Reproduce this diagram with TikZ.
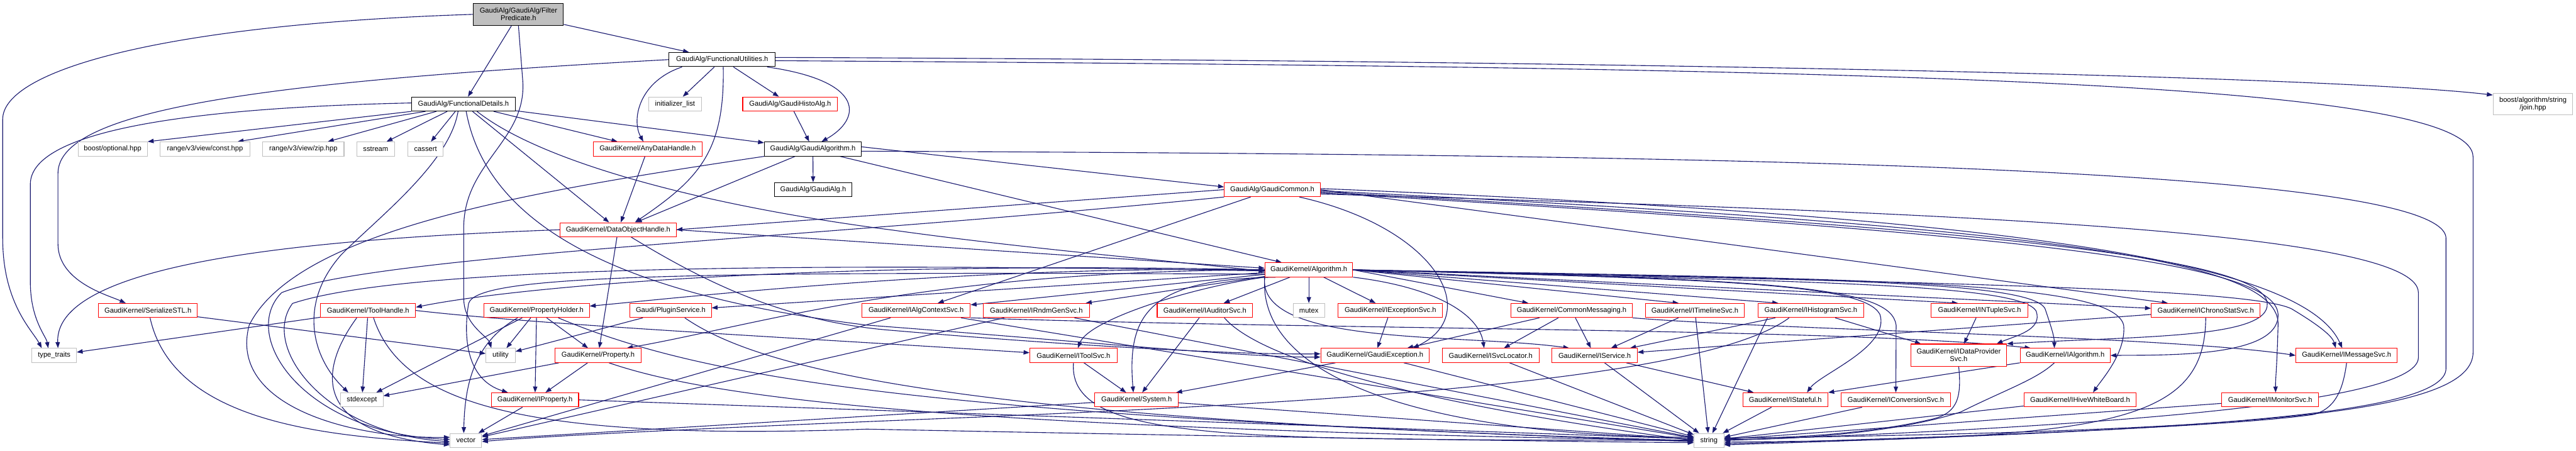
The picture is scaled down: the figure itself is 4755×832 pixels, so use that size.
\documentclass[tikz,border=0pt]{standalone}
\usepackage{fontspec}
\setmainfont{Liberation Sans}
\usetikzlibrary{arrows.meta,backgrounds}
\definecolor{edgec}{HTML}{191970}
\definecolor{redb}{HTML}{FF0000}
\definecolor{grayb}{HTML}{BFBFBF}
\newcommand\mybox[7]{\node[#1,minimum width=#5pt,minimum height=#6pt] (#2) at (#3,#4) {#7};}
\begin{document}
\begin{tikzpicture}[x=1pt,y=-1pt,font=\fontsize{13}{14}\selectfont,
  box/.style={draw,line width=1.2pt,inner sep=0pt,align=center,fill=white},
  rb/.style={box,draw=redb},
  kb/.style={box,draw=black},
  gb/.style={box,draw=grayb},
  fpb/.style={box,draw=black,fill=grayb},
  lnk/.style={draw=edgec,line width=1.3pt,-{Triangle[length=11pt,width=8pt]}}]
\useasboundingbox (0,0) rectangle (4755,832);
% nodes
\mybox{fpb}{fp}{957}{26.5}{166}{41}{GaudiAlg/GaudiAlg/Filter\\Predicate.h}
\mybox{kb}{fu}{1333}{110}{196}{26}{GaudiAlg/FunctionalUtilities.h}
\mybox{kb}{fd}{855.5}{192}{191}{26}{GaudiAlg/FunctionalDetails.h}
\mybox{gb}{bopt}{208}{275}{128}{26}{boost/optional.hpp}
\mybox{gb}{rconst}{378.5}{275}{165}{26}{range/v3/view/const.hpp}
\mybox{gb}{rzip}{560}{275}{150}{26}{range/v3/view/zip.hpp}
\mybox{gb}{sstream}{693.5}{275}{69}{26}{sstream}
\mybox{gb}{cassert}{785.5}{275}{65}{26}{cassert}
\mybox{gb}{initl}{1246}{192}{98}{26}{initializer\_list}
\mybox{rb}{gha}{1458.5}{192}{175}{26}{GaudiAlg/GaudiHistoAlg.h}
\mybox{rb}{adh}{1195.5}{275}{201}{26}{GaudiKernel/AnyDataHandle.h}
\mybox{kb}{ga}{1500.5}{275}{179}{26}{GaudiAlg/GaudiAlgorithm.h}
\mybox{kb}{galg}{1501}{350}{142}{26}{GaudiAlg/GaudiAlg.h}
\mybox{rb}{gc}{2348.5}{350}{177}{26}{GaudiAlg/GaudiCommon.h}
\mybox{rb}{doh}{1141}{424}{214}{26}{GaudiKernel/DataObjectHandle.h}
\mybox{gb}{join}{4675.5}{192}{147}{40}{boost/algorithm/string\\/join.hpp}
\mybox{rb}{alg}{2416}{498}{162}{26}{GaudiKernel/Algorithm.h}
\mybox{rb}{sstl}{273}{573}{182}{26}{GaudiKernel/SerializeSTL.h}
\mybox{rb}{th}{679.5}{573}{175}{26}{GaudiKernel/ToolHandle.h}
\mybox{rb}{ph}{990.5}{573}{195}{26}{GaudiKernel/PropertyHolder.h}
\mybox{rb}{ps}{1238}{573}{150}{26}{Gaudi/PluginService.h}
\mybox{rb}{iacs}{1691}{573}{200}{26}{GaudiKernel/IAlgContextSvc.h}
\mybox{rb}{irnd}{1913}{573}{196}{26}{GaudiKernel/IRndmGenSvc.h}
\mybox{rb}{iaud}{2224}{573}{176}{26}{GaudiKernel/IAuditorSvc.h}
\mybox{gb}{mutex}{2416}{573}{58}{26}{mutex}
\mybox{rb}{iexc}{2566.5}{573}{193}{26}{GaudiKernel/IExceptionSvc.h}
\mybox{rb}{cmsg}{2901}{573}{224}{26}{GaudiKernel/CommonMessaging.h}
\mybox{rb}{itl}{3128.5}{573}{183}{26}{GaudiKernel/ITimelineSvc.h}
\mybox{rb}{ihist}{3342.5}{573}{195}{26}{GaudiKernel/IHistogramSvc.h}
\mybox{rb}{intup}{3654}{573}{178}{26}{GaudiKernel/INTupleSvc.h}
\mybox{rb}{ichr}{4071.5}{573}{201}{26}{GaudiKernel/IChronoStatSvc.h}
\mybox{gb}{ttr}{100}{656}{82}{26}{type\_traits}
\mybox{gb}{util}{924}{656}{54}{26}{utility}
\mybox{rb}{prop}{1104}{656}{158}{26}{GaudiKernel/Property.h}
\mybox{rb}{itsvc}{1981.5}{656}{161}{26}{GaudiKernel/IToolSvc.h}
\mybox{rb}{gexc}{2538}{656}{200}{26}{GaudiKernel/GaudiException.h}
\mybox{rb}{isl}{2751.5}{656}{179}{26}{GaudiKernel/ISvcLocator.h}
\mybox{rb}{isvc}{2943.5}{656}{157}{26}{GaudiKernel/IService.h}
\mybox{rb}{idp}{3615.5}{655.5}{177}{41}{GaudiKernel/IDataProvider\\Svc.h}
\mybox{rb}{ialgo}{3812}{656}{166}{26}{GaudiKernel/IAlgorithm.h}
\mybox{rb}{imsg}{4331.5}{656}{187}{26}{GaudiKernel/IMessageSvc.h}
\mybox{gb}{stdexc}{668}{738}{78}{26}{stdexcept}
\mybox{rb}{iprop}{987.5}{738}{161}{26}{GaudiKernel/IProperty.h}
\mybox{rb}{sys}{2098}{738}{154}{26}{GaudiKernel/System.h}
\mybox{rb}{istat}{3295.5}{738}{157}{26}{GaudiKernel/IStateful.h}
\mybox{rb}{iconv}{3499.5}{738}{201}{26}{GaudiKernel/IConversionSvc.h}
\mybox{rb}{ihwb}{3839.5}{738}{207}{26}{GaudiKernel/IHiveWhiteBoard.h}
\mybox{rb}{imon}{4190.5}{738}{179}{26}{GaudiKernel/IMonitorSvc.h}
\mybox{gb}{vector}{860}{813}{58}{26}{vector}
\mybox{gb}{string}{3154.5}{813}{55}{26}{string}
\begin{pgfonlayer}{background}
% FilterPredicate
\draw[lnk] (fp) -- (fu);
\draw[lnk] (fp) -- (fd);
\draw[lnk] (fp.south) -- (965,150) .. controls (972,260) and (856,300) .. (856,420) -- (856,550) .. controls (856,600) and (900,620) .. ([xshift=-17]util.north);
\draw[lnk] (fp.west) .. controls (300,45) and (5,130) .. (5,220) -- (5,440) .. controls (5,560) and (60,610) .. ([xshift=-23]ttr.north);
% FunctionalUtilities
\draw[lnk] (fu) -- (initl);
\draw[lnk] (fu) -- (gha);
\draw[lnk] ([xshift=-74]fu.south) .. controls (1180,150) and (1165,220) .. ([xshift=-8]adh.north);
\draw[lnk] ([xshift=83]fu.south) .. controls (1600,150) and (1590,220) .. ([xshift=16]ga.north);
\draw[lnk] ([xshift=2]fu.south) .. controls (1338,280) and (1290,330) .. ([xshift=31]doh.north);
\draw[lnk] ([yshift=4]fu.east) .. controls (3000,112) and (4300,140) .. ([yshift=-4]join.north west);
\draw[lnk] ([yshift=-2]fu.east) .. controls (3500,125) and (4565,150) .. (4565,290) -- (4565,650) .. controls (4565,760) and (4200,795) .. ([yshift=4]string.east);
\draw[lnk] (fu.west) .. controls (500,150) and (107,200) .. (107,320) -- (107,450) .. controls (107,520) and (200,545) .. ([xshift=-41]sstl.north);
% FunctionalDetails
\draw[lnk] (fd.south west) -- (bopt.north east);
\draw[lnk] ([xshift=-70]fd.south) -- ([xshift=60]rconst.north);
\draw[lnk] ([xshift=-50]fd.south) -- ([xshift=45]rzip.north);
\draw[lnk] ([xshift=-30]fd.south) -- ([xshift=20]sstream.north);
\draw[lnk] ([xshift=-15]fd.south) -- ([xshift=10]cassert.north);
\draw[lnk] ([yshift=2]fd.west) .. controls (300,200) and (56,250) .. (56,340) -- (56,520) .. controls (56,590) and (85,620) .. ([xshift=-11]ttr.north);
\draw[lnk] ([xshift=-10]fd.south) .. controls (830,300) and (700,400) .. (630,470) .. controls (550,560) and (575,660) .. ([xshift=-25]stdexc.north);
\draw[lnk] (fd) -- (adh);
\draw[lnk] (fd) -- (ga);
\draw[lnk] (fd) -- (doh);
\draw[lnk] ([xshift=25]fd.south) .. controls (1000,300) and (1300,380) .. (1650,425) .. controls (1900,460) and (2200,485) .. ([yshift=-3]alg.west);
\draw[lnk] ([xshift=5]fd.south) .. controls (900,420) and (1150,545) .. (1600,600) .. controls (2000,630) and (2300,660) .. ([yshift=-3]gexc.west);
% GaudiHistoAlg, AnyDataHandle
\draw[lnk] (gha) -- (ga);
\draw[lnk] (adh) -- (doh);
% GaudiAlgorithm
\draw[lnk] (ga) -- (galg);
\draw[lnk] ([yshift=4]ga.east) -- ([yshift=5]gc.west);
\draw[lnk] (ga) -- (doh);
\draw[lnk] ([xshift=50]ga.south) -- ([xshift=-50]alg.north);
\draw[lnk] (ga.south west) .. controls (1000,350) and (550,420) .. (460,600) .. controls (420,750) and (650,810) .. ([yshift=6]vector.west);
\draw[lnk] ([yshift=-4]ga.east) .. controls (3000,285) and (4515,300) .. (4515,440) -- (4515,680) .. controls (4515,770) and (4000,795) .. ([yshift=-8]string.east);
% GaudiCommon
\draw[lnk] (gc.west) -- (doh.east);
\draw[lnk] (gc) -- (iacs);
\draw[lnk] ([xshift=50]gc.south) .. controls (2650,420) and (2740,580) .. ([xshift=70]gexc.north);
\draw[lnk] (gc.east) -- ([xshift=-70]ichr.north);
\draw[lnk] ([yshift=2]gc.east) .. controls (3700,400) and (4250,480) .. ([xshift=-8]imsg.north);
\draw[lnk] ([yshift=-2]gc.east) .. controls (3800,420) and (4210,480) .. (4205,600) .. controls (4203,680) and (4200,700) .. ([xshift=10]imon.north);
\draw[lnk] ([yshift=-4]gc.east) .. controls (3600,420) and (4180,470) .. (4185,560) .. controls (4190,625) and (3950,620) .. (idp.north east);
\draw[lnk] ([yshift=-6]gc.east) .. controls (3700,430) and (4200,480) .. (4205,580) .. controls (4208,660) and (4000,655) .. (ialgo.east);
\draw[lnk] ([yshift=-8]gc.east) .. controls (3500,390) and (4464,420) .. (4464,540) -- (4464,660) .. controls (4464,750) and (3800,790) .. (string.east);
\draw[lnk] (gc.south west) .. controls (1500,440) and (700,470) .. (520,540) .. controls (440,620) and (560,800) .. ([yshift=2]vector.west);
% DataObjectHandle
\draw[lnk] (doh.west) .. controls (600,440) and (100,480) .. ([xshift=7]ttr.north);
\draw[lnk] (doh) -- (prop);
\draw[lnk] (doh.east) -- ([yshift=3]alg.west);
\draw[lnk] ([xshift=24]doh.south) .. controls (1300,520) and (1450,595) .. (1650,610) .. controls (2000,640) and (2300,655) .. ([yshift=3]gexc.west);
% Algorithm
\draw[lnk] (alg) -- (iacs);
\draw[lnk] (alg) -- (irnd);
\draw[lnk] (alg) -- (iaud);
\draw[lnk] (alg) -- (mutex);
\draw[lnk] (alg) -- (iexc);
\draw[lnk] (alg.east) -- ([xshift=-80]cmsg.north);
\draw[lnk] (alg.east) -- ([xshift=-30]itl.north);
\draw[lnk] (alg.east) -- ([xshift=-60]ihist.north);
\draw[lnk] (alg.east) -- ([xshift=-40]intup.north);
\draw[lnk] (alg.east) -- ([yshift=4]ichr.west);
\draw[lnk] (alg) -- (ps);
\draw[lnk] (alg.west) .. controls (1800,490) and (1300,545) .. ([yshift=8]ph.east);
\draw[lnk] (alg.west) .. controls (1500,480) and (950,530) .. ([yshift=6]th.east);
\draw[lnk] (alg.west) .. controls (1700,500) and (1400,600) .. ([xshift=53]prop.north);
\draw[lnk] ([yshift=-8]alg.west) .. controls (1200,500) and (880,510) .. (865,560) .. controls (855,620) and (860,700) .. ([xshift=-50]iprop.north);
\draw[lnk] ([yshift=-2]alg.west) .. controls (1500,485) and (750,490) .. (540,560) .. controls (480,640) and (600,800) .. ([yshift=-2]vector.west);
\draw[lnk] (alg.south west) .. controls (2200,530) and (2010,590) .. ([xshift=8]itsvc.north);
\draw[lnk] ([xshift=20]alg.south west) .. controls (2120,515) and (2080,580) .. ([xshift=-6]sys.north);
\draw[lnk] (alg.south east) .. controls (2650,530) and (2730,580) .. ([xshift=-12]isl.north);
\draw[lnk] (alg.south west) .. controls (2320,640) and (2700,615) .. ([xshift=-47]isvc.north);
\draw[lnk] (alg.east) .. controls (3200,515) and (3440,525) .. (3470,580) .. controls (3490,640) and (3360,690) .. ([xshift=40]istat.north);
\draw[lnk] (alg.east) .. controls (3300,515) and (3490,530) .. (3500,600) -- (iconv.north);
\draw[lnk] (alg.east) .. controls (3300,520) and (3760,520) .. (3760,580) .. controls (3765,610) and (3720,620) .. ([xshift=70]idp.north);
\draw[lnk] (alg.east) .. controls (3300,515) and (3750,515) .. (3775,570) .. controls (3785,600) and (3792,620) .. ([xshift=-20]ialgo.north);
\draw[lnk] (alg.east) .. controls (3500,515) and (3900,520) .. (3920,600) .. controls (3925,650) and (3880,700) .. ([xshift=24]ihwb.north);
\draw[lnk] (alg.east) .. controls (3500,520) and (4150,530) .. (4230,570) .. controls (4280,600) and (4305,620) .. ([xshift=-20]imsg.north);
\draw[lnk] (alg.south west) .. controls (2320,720) and (2700,805) .. ([yshift=6]string.west);
% SerializeSTL, ToolHandle
\draw[lnk] (sstl) -- (util);
\draw[lnk] ([xshift=4]sstl.south) .. controls (320,780) and (600,805) .. ([yshift=-5]vector.west);
\draw[lnk] (th) -- (ttr);
\draw[lnk] (th) -- (stdexc);
\draw[lnk] ([xshift=-21]th.south) .. controls (590,680) and (570,800) .. ([yshift=-8]vector.west);
\draw[lnk] ([xshift=10]th.south) .. controls (740,740) and (950,815) .. (1600,792) .. controls (2500,810) and (2900,815) .. ([yshift=-4]string.west);
\draw[lnk] (th.east) .. controls (1000,600) and (1500,625) .. ([yshift=5]itsvc.west);
% PropertyHolder, PluginService, Property, IProperty
\draw[lnk] (ph) -- (stdexc);
\draw[lnk] ([xshift=-35]ph.south) .. controls (880,630) and (858,700) .. ([xshift=-4]vector.north);
\draw[lnk] (ph) -- (util);
\draw[lnk] (ph) -- (iprop);
\draw[lnk] (ph) -- (prop);
\draw[lnk] ([xshift=40]ph.south) .. controls (1300,700) and (1700,765) .. ([yshift=-2]string.west);
\draw[lnk] (ps) -- (util);
\draw[lnk] ([xshift=26]ps.south) .. controls (1400,680) and (1750,775) .. (string.west);
\draw[lnk] (prop) -- (iprop);
\draw[lnk] (prop) -- (stdexc);
\draw[lnk] ([xshift=20]prop.south) .. controls (1300,730) and (1700,790) .. (string.west);
\draw[lnk] (iprop) -- (vector);
\draw[lnk] (iprop.east) -- ([yshift=3]string.west);
% services row
\draw[lnk] (iacs) -- (vector);
\draw[lnk] (iacs) -- (string);
\draw[lnk] (iacs.south east) .. controls (2500,610) and (3400,605) .. ([xshift=20]ialgo.north west);
\draw[lnk] (irnd) -- (vector);
\draw[lnk] (irnd) -- (string);
\draw[lnk] (iaud) -- (sys);
\draw[lnk] ([xshift=36]iaud.south) .. controls (2350,690) and (2800,770) .. (string.west);
\draw[lnk] (itsvc) -- (sys);
\draw[lnk] (itsvc.south) .. controls (1970,820) and (2300,810) .. (string.west);
\draw[lnk] (sys) -- (vector);
\draw[lnk] (sys) -- (string);
\draw[lnk] (iexc) -- (gexc);
\draw[lnk] (cmsg) -- (gexc);
\draw[lnk] (cmsg) -- (isl);
\draw[lnk] (cmsg) -- (isvc);
\draw[lnk] (cmsg.south east) .. controls (3300,610) and (4000,620) .. (imsg.west);
\draw[lnk] (itl) -- (isvc);
\draw[lnk] (itl) -- (string);
\draw[lnk] (ihist) -- (isvc);
\draw[lnk] ([xshift=-40]ihist.south) .. controls (3150,700) and (2500,740) .. (1800,770) .. controls (1300,790) and (1000,805) .. ([yshift=-2]vector.east);
\draw[lnk] ([xshift=-80]ihist.south) -- (string);
\draw[lnk] (ihist) -- (idp);
\draw[lnk] (intup) -- (idp);
\draw[lnk] (ichr) -- (isvc);
\draw[lnk] (ichr.south) .. controls (4070,780) and (3900,810) .. ([yshift=-3]string.east);
\draw[lnk] (gexc) -- (sys);
\draw[lnk] (gexc) -- (string);
\draw[lnk] (isl) -- (string);
\draw[lnk] (isvc) -- (istat);
\draw[lnk] (isvc) -- (string);
\draw[lnk] (idp.south) .. controls (3622,740) and (3610,765) .. (3560,775) .. controls (3450,800) and (3300,810) .. ([yshift=5]string.east);
\draw[lnk] (ialgo.south west) -- (istat.north east);
\draw[lnk] ([xshift=-20]ialgo.south) .. controls (3760,700) and (3700,720) .. (3620,760) .. controls (3500,800) and (3300,812) .. ([yshift=2]string.east);
\draw[lnk] (istat) -- (string);
\draw[lnk] (iconv) -- (string);
\draw[lnk] (ihwb) -- (string);
\draw[lnk] (imon) -- (string);
\draw[lnk] (imsg.south) .. controls (4325,720) and (4310,755) .. (4270,765) .. controls (4100,790) and (3500,810) .. ([yshift=-6]string.east);
\end{pgfonlayer}
\end{tikzpicture}
\end{document}
